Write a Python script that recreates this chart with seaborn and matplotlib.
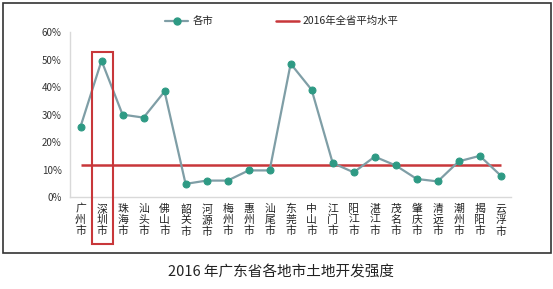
import matplotlib
matplotlib.use('Agg')
import matplotlib.pyplot as plt
import matplotlib.patches as mpatches
from matplotlib.lines import Line2D
import numpy as np
import pandas as pd
import seaborn as sns

# data
cities = ['广州市', '深圳市', '珠海市', '汕头市', '佛山市', '韶关市', '河源市',
          '梅州市', '惠州市', '汕尾市', '东莞市', '中山市', '江门市', '阳江市',
          '湛江市', '茂名市', '肇庆市', '清远市', '潮州市', '揭阳市', '云浮市']
intensity = [25.6, 49.6, 30.0, 28.9, 38.4, 4.8, 6.0, 6.0, 9.7, 9.7, 48.5,
             39.0, 12.4, 9.0, 14.7, 11.5, 6.6, 5.7, 13.0, 15.0, 7.8]
province_avg = 11.7
yticks = [0, 10, 20, 30, 40, 50, 60]

sns.set_style('white')
plt.rcParams['font.family'] = ['Noto Sans CJK SC', 'DejaVu Sans']

df = pd.DataFrame({'idx': np.arange(len(cities)), 'city': cities, 'val': intensity})

fig = plt.figure(figsize=(5.53, 2.89), dpi=100)
ax = fig.add_axes([0.1266, 0.318, 0.798, 0.571])

line_col = '#7f9ea6'
mark_col = '#2e9a84'
red = '#c8373a'

sns.lineplot(data=df, x='idx', y='val', ax=ax, color=line_col, linewidth=1.6,
             marker='o', markersize=5, markerfacecolor=mark_col,
             markeredgecolor=mark_col)
# provincial average drawn across the city positions
ax.hlines(province_avg, df['idx'].min(), df['idx'].max(), color=red,
          linewidth=1.8, zorder=1)

ax.set_xlim(-0.5, len(cities) - 0.5)
ax.set_ylim(0, 60)
ax.set_yticks(yticks)
ax.set_yticklabels(['%d%%' % t for t in yticks], fontsize=7, color='#333333')
ax.set_xticks(df['idx'])
ax.set_xticklabels(['\n'.join(c) for c in cities], fontsize=7.8, color='#222222',
                   linespacing=1.08)
ax.tick_params(axis='both', length=0, pad=6)
ax.tick_params(axis='x', pad=5)
ax.set_xlabel('')
ax.set_ylabel('')
for s in ['top', 'right']:
    ax.spines[s].set_visible(False)
for s in ['left', 'bottom']:
    ax.spines[s].set_color('#d9d9d9')
    ax.spines[s].set_linewidth(1.0)

# highlight box around Shenzhen
rect = mpatches.Rectangle((0.57, -17.0), 0.96, 69.7, fill=False, edgecolor=red,
                          linewidth=1.5, clip_on=False, zorder=5)
ax.add_patch(rect)

handles = [Line2D([], [], color=line_col, linewidth=1.6, marker='o', markersize=5,
                  markerfacecolor=mark_col, markeredgecolor=mark_col),
           Line2D([], [], color=red, linewidth=1.8)]
fig.legend(handles, ['各市', '2016年全省平均水平'], loc='center',
           bbox_to_anchor=(0.51, 0.927), ncol=2, frameon=False, fontsize=7.5,
           columnspacing=6, handlelength=2.2, handletextpad=0.4)

# outer frame
frame = mpatches.Rectangle((3 / 553, 1 - 253 / 289), 548 / 553, 250 / 289,
                           transform=fig.transFigure, fill=False,
                           edgecolor='#333333', linewidth=1.2)
fig.patches.append(frame)

fig.text(0.508, 1 - 272 / 289, '2016 年广东省各地市土地开发强度', ha='center',
         va='center', fontsize=10.5, color='#222222')

fig.savefig('out.png', dpi=100)
